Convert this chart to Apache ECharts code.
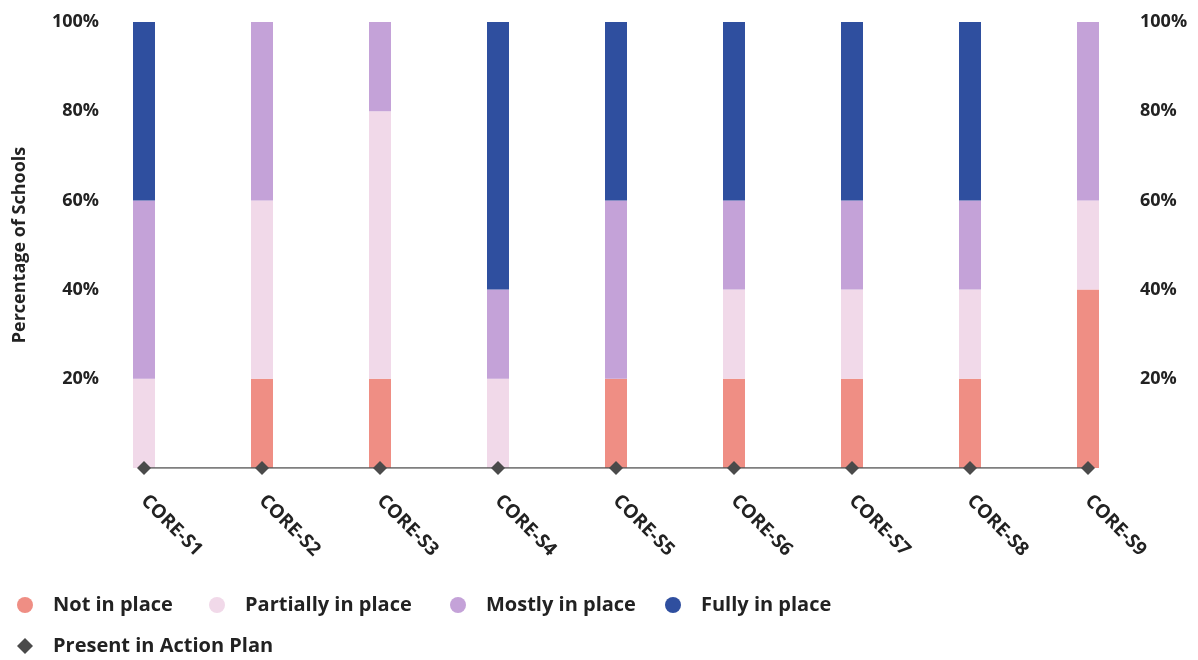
<!DOCTYPE html>
<html><head><meta charset="utf-8">
<script src="https://cdn.jsdelivr.net/npm/echarts@6/dist/echarts.min.js"></script>
<style>html,body{margin:0;padding:0;background:#fff}#c{width:1198px;height:660px}</style>
</head><body><div id="c"></div>
<script>
const categories = ['CORE-S1','CORE-S2','CORE-S3','CORE-S4','CORE-S5','CORE-S6','CORE-S7','CORE-S8','CORE-S9'];
const notInPlace       = [0, 20, 20, 0, 20, 20, 20, 20, 40];
const partiallyInPlace = [20, 40, 60, 20, 0, 20, 20, 20, 20];
const mostlyInPlace    = [40, 40, 20, 20, 40, 20, 20, 20, 40];
const fullyInPlace     = [40, 0, 0, 60, 40, 40, 40, 40, 0];
const presentInPlan    = [0, 0, 0, 0, 0, 0, 0, 0, 0];
const yTicks = [0, 20, 40, 60, 80, 100];

const FONT = 'Open Sans';
const colors = {not:'#ef8e84', part:'#f1d9e9', most:'#c4a2d8', fully:'#2f4f9f', plan:'#4a4a4a'};
const chart = echarts.init(document.getElementById('c'));
const axisLbl = {fontFamily:FONT, fontWeight:'bold', fontSize:18, color:'#222',
  formatter: v => v === 0 ? '' : v + '%'};
const legendText = {fontFamily:FONT, fontWeight:'bold', fontSize:20, color:'#222', padding:[0,0,0,15]};
function lg(name, left, top, icon){
  return {data:[{name, icon}], left, top, itemWidth:16, itemHeight:16, itemGap:0,
    textStyle:legendText, selectedMode:false, padding:0};
}
const barS = (name, data, color) => ({name, type:'bar', stack:'t', data, barWidth:22,
  itemStyle:{color}, emphasis:{disabled:true}});
chart.setOption({
  animation:false,
  grid:{left:85, right:51, top:22, bottom:192, outerBoundsMode:'none', containLabel:false},
  legend:[
    lg('Not in place', 17, 595, 'circle'),
    lg('Partially in place', 209, 595, 'circle'),
    lg('Mostly in place', 450, 595, 'circle'),
    lg('Fully in place', 665, 595, 'circle'),
    lg('Present in Action Plan', 17, 636, 'diamond')
  ],
  xAxis:{type:'category', data:categories, axisLine:{show:false}, axisTick:{show:false},
    axisLabel:{rotate:-45, margin:30, fontFamily:FONT, fontWeight:'bold', fontSize:19, color:'#222', interval:0}},
  yAxis:[
    {type:'value', min:0, max:100, interval:20, splitLine:{show:false}, axisLine:{show:false},
     axisTick:{show:false}, axisLabel:Object.assign({}, axisLbl, {margin:-14}),
     name:'Percentage of Schools', nameLocation:'middle', nameGap:56, nameRotate:90,
     nameTextStyle:{fontFamily:FONT, fontSize:18, color:'#222', fontWeight:'bold'}},
    {type:'value', min:0, max:100, interval:20, splitLine:{show:false}, axisLine:{show:false},
     axisTick:{show:false}, axisLabel:Object.assign({}, axisLbl, {margin:-7})}
  ],
  series:[
    barS('Not in place', notInPlace, colors.not),
    barS('Partially in place', partiallyInPlace, colors.part),
    barS('Mostly in place', mostlyInPlace, colors.most),
    barS('Fully in place', fullyInPlace, colors.fully),
    {name:'Present in Action Plan', type:'line', data:presentInPlan, symbol:'diamond', symbolSize:14,
     itemStyle:{color:colors.plan}, lineStyle:{color:'#555', width:1.5}, z:5, emphasis:{disabled:true}}
  ]
});
</script></body></html>
